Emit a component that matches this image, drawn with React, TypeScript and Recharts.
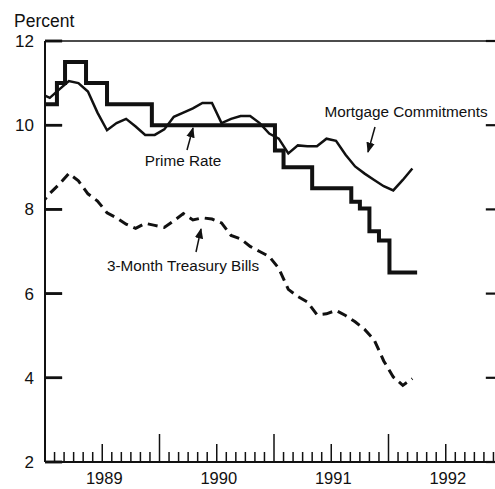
import React from "react";
import { LineChart, Line, XAxis, YAxis, ReferenceLine } from "recharts";

const FONT = '"Liberation Sans", Arial, Helvetica, sans-serif';
const INK = "#111";

// monthly averages, Dec 1988 .. Mar 1992
const mortgageRates = [
  10.75,
  10.65, 10.85, 11.05, 11.0, 10.8, 10.3, 9.88, 10.05, 10.15, 9.97, 9.77, 9.77,
  9.9, 10.2, 10.3, 10.4, 10.53, 10.53, 10.05, 10.15, 10.22, 10.22, 10.05, 9.8,
  9.68, 9.33, 9.52, 9.5, 9.5, 9.68, 9.63, 9.3, 9.02, 8.85, 8.7, 8.55,
  8.45, 8.7, 8.97,
];

const tbillRates = [
  8.1,
  8.38, 8.6, 8.85, 8.68, 8.37, 8.2, 7.92, 7.8, 7.65, 7.55, 7.67, 7.62,
  7.57, 7.73, 7.9, 7.75, 7.8, 7.77, 7.68, 7.38, 7.3, 7.12, 7.0, 6.88,
  6.6, 6.1, 5.93, 5.8, 5.5, 5.52, 5.6, 5.48, 5.33, 5.15, 4.9, 4.4,
  4.02, 3.82, 3.98,
];

// prime rate steps: month (from Jan 1989) where each level starts
const primeChangeAt = [0, 1.25, 2.1, 4.3, 6.5, 11.2, 24.1, 25, 28, 32.1, 33, 34, 35, 36.1, 39];
const primeRate = [10.5, 11, 11.5, 11, 10.5, 10, 9.4, 9, 8.5, 8.18, 8.02, 7.48, 7.26, 6.5, 6.5];

const yearLabels = ["1989", "1990", "1991", "1992"];
const percentTicks = [2, 4, 6, 8, 10, 12];
const monthTicks = Array.from({ length: 49 }, (_, i) => i);
const X_MIN = 0;
const X_MAX = 48;
const TICK_LEN = 1.8; // inward y-tick length, in months

// series points sit mid-month, first one is Dec 1988
const rateData = mortgageRates.map((v, i) => ({
  m: i - 0.5,
  mortgage: v,
  tbill: tbillRates[i],
}));
const primeData = primeChangeAt.map((m, i) => ({ m, prime: primeRate[i] }));

function MonthTick({ x, y, payload }: any) {
  const m = payload.value as number;
  const h = m % 12 === 0 ? 28 : m % 12 === 6 ? 18 : 10;
  return (
    <g>
      <line x1={x} x2={x} y1={y} y2={y - h} stroke={INK} strokeWidth={1.5} />
      {m % 12 === 6 && (
        <text x={x + 2} y={y + 22} textAnchor="middle" fontSize={16.5} fontFamily={FONT} fill={INK}>
          {yearLabels[(m - 6) / 12]}
        </text>
      )}
    </g>
  );
}

// label outside the axis plus a tick mark that points into the plot
function PercentTick({ x, y, payload }: any) {
  return (
    <g>
      <rect x={x + 11} y={y - 1.25} width={17} height={2.5} fill={INK} />
      <text x={x} y={y + 6} textAnchor="end" fontSize={17} fontFamily={FONT} fill={INK}>
        {payload.value}
      </text>
    </g>
  );
}

function Notes() {
  const txt = { fontSize: 15.3, fontFamily: FONT, fill: INK };
  return (
    <svg
      width={495}
      height={489}
      style={{ position: "absolute", left: 0, top: 0, pointerEvents: "none" }}
    >
      <defs>
        <marker id="head" viewBox="0 0 10 10" refX="9" refY="5" markerWidth="7" markerHeight="7" orient="auto">
          <path d="M0,1 L10,5 L0,9 z" fill={INK} />
        </marker>
      </defs>
      <text x={14} y={27} fontSize={17.5} fontFamily={FONT} fill={INK}>Percent</text>
      <text x={183} y={166} textAnchor="middle" {...txt}>Prime Rate</text>
      <line x1={187} y1={150} x2={193} y2={128} stroke={INK} strokeWidth={1.5} markerEnd="url(#head)" />
      <text x={406} y={117} textAnchor="middle" {...txt}>Mortgage Commitments</text>
      <line x1={375} y1={127} x2={368} y2={152} stroke={INK} strokeWidth={1.5} markerEnd="url(#head)" />
      <text x={183} y={271} textAnchor="middle" {...txt}>3-Month Treasury Bills</text>
      <line x1={196} y1={252} x2={201} y2={229} stroke={INK} strokeWidth={1.5} markerEnd="url(#head)" />
    </svg>
  );
}

export default function App() {
  return (
    <div
      style={{
        position: "absolute",
        left: 0,
        top: 0,
        width: 495,
        height: 489,
        overflow: "hidden",
        background: "#fff",
      }}
    >
      <LineChart
        width={520}
        height={489}
        data={rateData}
        margin={{ top: 41, right: 0, bottom: 0, left: 0 }}
      >
        <XAxis
          dataKey="m"
          type="number"
          domain={[X_MIN, X_MAX]}
          allowDataOverflow
          ticks={monthTicks}
          interval={0}
          height={27}
          tickSize={0}
          tickMargin={0}
          tickLine={false}
          axisLine={{ stroke: INK, strokeWidth: 2 }}
          tick={<MonthTick />}
        />
        <YAxis
          yAxisId="left"
          type="number"
          domain={[2, 12]}
          ticks={percentTicks}
          interval={0}
          width={45}
          tickSize={0}
          tickMargin={11}
          tickLine={false}
          axisLine={{ stroke: INK, strokeWidth: 2 }}
          tick={<PercentTick />}
        />
        <YAxis
          yAxisId="right"
          orientation="right"
          type="number"
          domain={[2, 12]}
          width={17}
          tick={false}
          tickLine={false}
          axisLine={{ stroke: INK, strokeWidth: 2 }}
        />
        {percentTicks.map((v) => (
          <ReferenceLine
            key={`l${v}`}
            yAxisId="left"
            segment={[{ x: X_MIN, y: v }, { x: X_MIN + TICK_LEN, y: v }]}
            stroke={INK}
            strokeWidth={2.5}
          />
        ))}
        {percentTicks.map((v) => (
          <ReferenceLine
            key={`r${v}`}
            yAxisId="left"
            segment={[{ x: X_MAX - TICK_LEN, y: v }, { x: X_MAX, y: v }]}
            stroke={INK}
            strokeWidth={2.2}
          />
        ))}
        <ReferenceLine yAxisId="left" y={12} stroke={INK} strokeWidth={1.5} />
        <Line
          yAxisId="left"
          data={primeData}
          dataKey="prime"
          type="stepAfter"
          stroke={INK}
          strokeWidth={4}
          strokeLinejoin="miter"
          dot={false}
          activeDot={false}
          isAnimationActive={false}
        />
        <Line
          yAxisId="left"
          dataKey="mortgage"
          type="linear"
          stroke={INK}
          strokeWidth={2.5}
          dot={false}
          activeDot={false}
          isAnimationActive={false}
        />
        <Line
          yAxisId="left"
          dataKey="tbill"
          type="linear"
          stroke={INK}
          strokeWidth={3}
          strokeDasharray="10 6"
          dot={false}
          activeDot={false}
          isAnimationActive={false}
        />
      </LineChart>
      <Notes />
    </div>
  );
}
